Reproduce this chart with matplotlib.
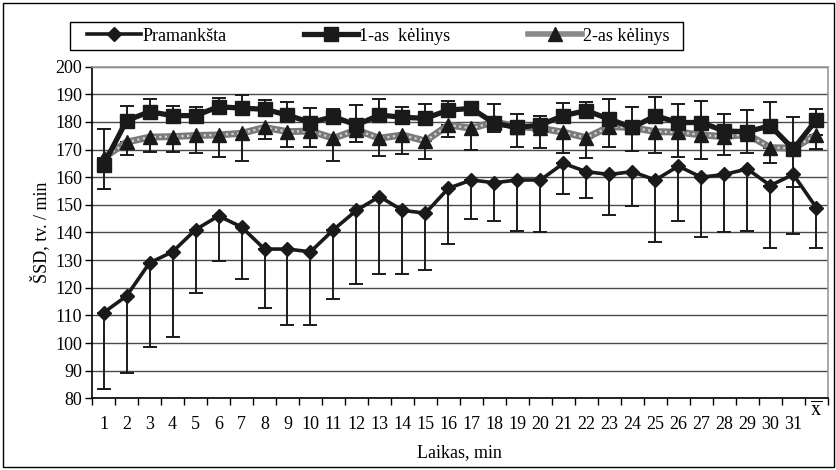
import numpy as np
import matplotlib
matplotlib.use("Agg")
import matplotlib.pyplot as plt
from matplotlib.lines import Line2D
from matplotlib.patches import Rectangle

plt.rcParams['font.family'] = ['Liberation Serif', 'DejaVu Serif']
plt.rcParams['mathtext.fontset'] = 'stix'

# Duomenys (nuskaityti nuo grafiko)
laikas = list(range(1, 33))
x_labels = [str(i) for i in range(1, 32)] + ['']

pramankSta = [111, 117, 129, 133, 141, 146, 142, 134, 134, 133, 141, 148, 153, 148, 147, 156,
              159, 158, 159, 159, 165, 162, 161, 162, 159, 164, 160, 161, 163, 157, 161, 149]
pramankSta_err = [27.5, 28, 30.5, 31, 23, 16.5, 19, 21.5, 27.5, 26.5, 25, 26.5, 28, 23, 20.5, 20,
                  14, 14, 18.5, 19, 11, 9.5, 14.5, 12.5, 22.5, 20, 21.5, 21, 22.5, 22.5, 21.5, 14.5]

kelinys1 = [164.5, 180.5, 183.7, 182.3, 182.3, 185.5, 185, 184.6, 182.5, 179.8, 181.9, 178.9,
            182.5, 181.7, 181.3, 184.3, 184.9, 179.5, 178, 178.9, 182.3, 184.1, 181, 178,
            182.2, 179.8, 179.8, 176.7, 176.5, 178.6, 170.2, 180.7]
kelinys1_err = [12.8, 5.3, 4.6, 3.4, 3.1, 3.3, 4.8, 3.5, 4.8, 5.4, 2.7, 7.2,
                5.7, 3.8, 5.1, 3.3, 1.1, 6.9, 4.8, 3.4, 4.4, 3.2, 7.3, 7.4,
                6.9, 6.6, 7.7, 6.1, 7.7, 8.7, 11.6, 4.0]

kelinys2 = [167, 172.7, 174.5, 174.7, 175.1, 175.3, 175.9, 178, 176.5, 176.7, 174.1, 177.1,
            174.1, 175.3, 173.1, 178.9, 177.7, 180, 178.3, 177.7, 176.3, 174.3, 178.3, 178,
            176.5, 176.3, 175.3, 174.7, 175.5, 170.7, 170.5, 175.3]
kelinys2_err = [11.2, 4.5, 5.2, 5.5, 6.5, 8.1, 10, 4, 5.5, 5.7, 8.4, 4.2,
                6.3, 7, 6.6, 4.4, 7.8, 3.7, 7.3, 7.2, 7.4, 7.2, 7.5, 8.4,
                7.8, 9, 8.6, 6.7, 6.6, 5.7, 14, 5.1]

x = np.array(laikas)

fig = plt.figure(figsize=(8.37, 4.70), dpi=100)
ax = fig.add_axes([0.110, 0.1526, 0.879, 0.7055])

# tinklelis
ax.set_ylim(80, 200)
ax.set_xlim(0.5, 32.5)
ax.set_yticks(range(80, 201, 10))
ax.yaxis.grid(True, color='#4a4a4a', linewidth=1.0)
ax.set_axisbelow(True)

# klaidu juostos (vienpuses)
zeros = np.zeros(len(x))
ax.errorbar(x, pramankSta, yerr=[pramankSta_err, zeros], fmt='none', ecolor='#1a1a1a',
            elinewidth=1.4, capsize=5, capthick=1.4, zorder=2)
ax.errorbar(x, kelinys1, yerr=[zeros, kelinys1_err], fmt='none', ecolor='#1a1a1a',
            elinewidth=1.4, capsize=5, capthick=1.4, zorder=2)
ax.errorbar(x, kelinys2, yerr=[kelinys2_err, zeros], fmt='none', ecolor='#1a1a1a',
            elinewidth=1.4, capsize=5, capthick=1.4, zorder=2)

# 2-as kelinys: pilka rastuota linija
ax.plot(x, kelinys2, color='#7a7a7a', linewidth=5, solid_capstyle='round', zorder=3)
ax.plot(x, kelinys2, color='#d4d4d4', linewidth=1.6, linestyle=(0, (1, 1.5)), zorder=3)
ax.plot(x, kelinys2, linestyle='none', marker='^', markersize=10, color='#1a1a1a', zorder=4)

# 1-as kelinys
ax.plot(x, kelinys1, color='#1a1a1a', linewidth=3.8, marker='s', markersize=10, zorder=5)

# Pramanksta
ax.plot(x, pramankSta, color='#1a1a1a', linewidth=2.6, marker='D', markersize=7.5, zorder=6)

# asys
ax.set_xticks(np.arange(0.5, 33, 1))
ax.set_xticklabels([])
ax.set_xticks(x, minor=True)
ax.set_xticklabels(x_labels, minor=True)
ax.tick_params(axis='x', which='major', length=5, width=1, direction='out', color='black')
ax.tick_params(axis='x', which='minor', length=0, pad=13, labelsize=13)
ax.tick_params(axis='y', length=5, width=1, direction='out', labelsize=13, pad=2)

ax.annotate(r'$\overline{\mathrm{x}}$', xy=(32, -0.01), xycoords=('data', 'axes fraction'),
            ha='center', va='top', fontsize=15)

for side in ['left', 'bottom']:
    ax.spines[side].set_color('black')
    ax.spines[side].set_linewidth(1.2)
for side in ['top', 'right']:
    ax.spines[side].set_color('#9a9a9a')
    ax.spines[side].set_linewidth(1.2)

ax.set_xlabel('Laikas, min', fontsize=13, labelpad=8)
ax.set_ylabel('ŠSD, tv. / min', fontsize=13, labelpad=4)

# legenda (remelis piesiamas atskirai)
h1 = Line2D([], [], color='#1a1a1a', linewidth=2.6, marker='D', markersize=7.5)
h2 = Line2D([], [], color='#1a1a1a', linewidth=3.8, marker='s', markersize=10)
h3 = Line2D([], [], color='#8a8a8a', linewidth=4, marker='^', markersize=10,
            markerfacecolor='#1a1a1a', markeredgecolor='#1a1a1a')
leg = fig.legend([h1, h2, h3], ['Pramankšta', '1-as  kėlinys', '2-as kėlinys'],
                 loc='center', bbox_to_anchor=(0.452, 0.923), ncol=3, fontsize=13,
                 frameon=False, handlelength=3.0, columnspacing=4.3, handletextpad=0.05)
fig.patches.append(Rectangle((70 / 837, 1 - 50 / 470), 613 / 837, 28 / 470,
                             transform=fig.transFigure, fill=False, edgecolor='black',
                             linewidth=1.0))

# isorinis remelis
fig.patches.append(Rectangle((0.004, 0.006), 0.992, 0.988, transform=fig.transFigure,
                             fill=False, edgecolor='black', linewidth=1.0))

fig.savefig('out.png', dpi=100)
